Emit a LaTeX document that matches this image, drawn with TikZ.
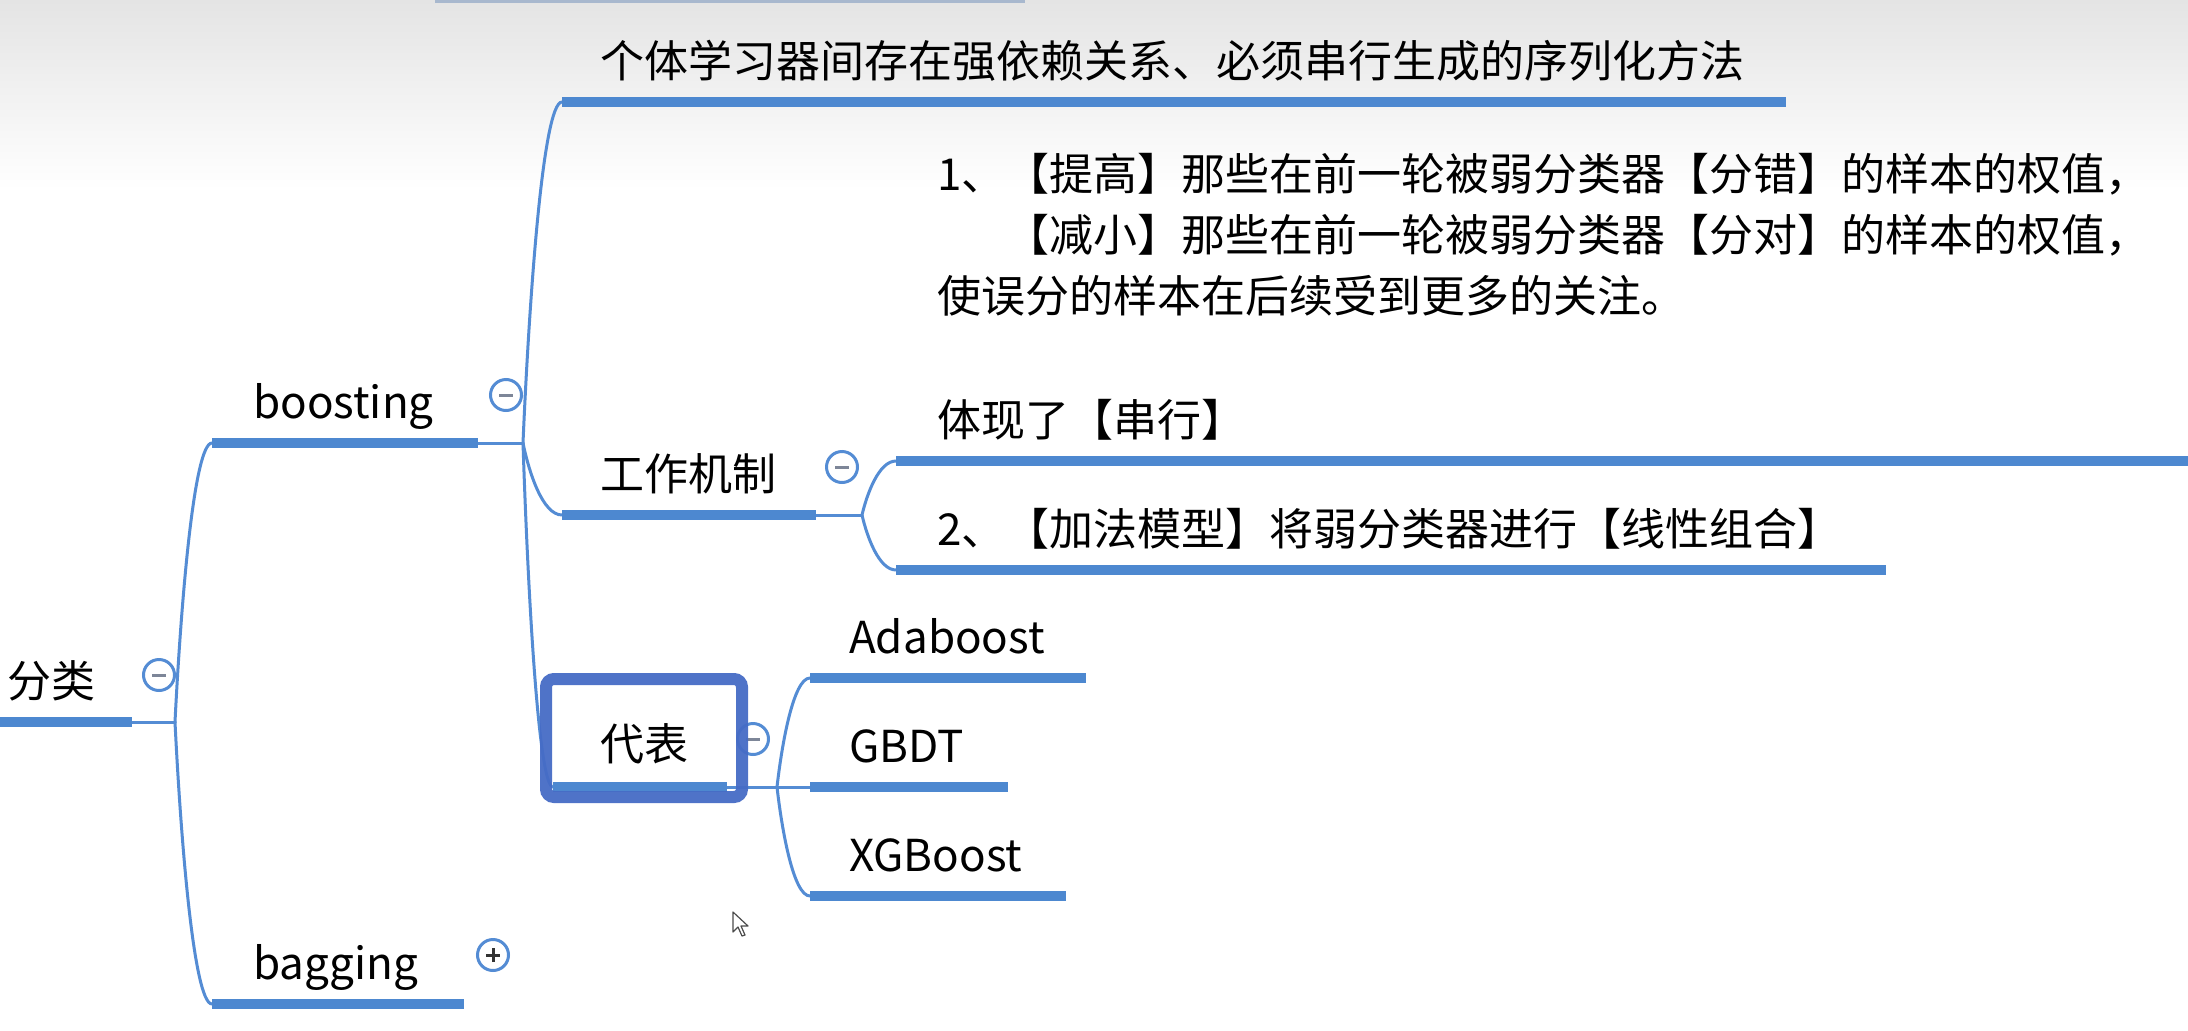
\documentclass[tikz,border=0pt]{standalone}
\usepackage{fontspec}
\setmainfont{Noto Sans CJK SC}
\usetikzlibrary{calc}
\definecolor{ulblue}{RGB}{77,136,208}
\definecolor{lnblue}{RGB}{84,140,212}
\definecolor{selblue}{RGB}{70,108,198}
\definecolor{btngray}{RGB}{125,134,152}
\definecolor{topgray}{RGB}{228,228,228}
\definecolor{midgray}{RGB}{244,244,244}
\definecolor{topline}{RGB}{168,184,206}
\begin{document}
\begin{tikzpicture}[x=1pt,y=-1pt,
  lbl/.style={anchor=base west, inner sep=0pt, font=\fontsize{44}{62}\selectfont, text=black},
  uline/.style={draw=ulblue, line width=10pt},
  conn/.style={draw=lnblue, line width=3pt, line cap=round},
  bcurve/.style={to path={let \p1=(\tikztostart), \p2=(\tikztotarget) in
      .. controls ({\x1+0.15*(\x2-\x1)},{\y1+0.4*(\y2-\y1)}) and ({\x1+0.5*(\x2-\x1)},{\y2}) .. (\tikztotarget)}},
  btn/.style={circle, draw=lnblue, line width=3pt, fill=white, minimum size=31pt, inner sep=0pt},
  btnmark/.style={line width=3pt},
]
\useasboundingbox (0,0) rectangle (2188,1031);
\fill[white] (0,0) rectangle (2188,1031);
\shade[top color=topgray, middle color=midgray, bottom color=white] (0,0) rectangle (2188,190);
\draw[topline, line width=3pt] (435,1) -- (1025,1);

% ---------- anchor coordinates (underline ends and junctions)
\coordinate (fenlei-a) at (0,722);    \coordinate (fenlei-b) at (132,722);  \coordinate (j-fenlei) at (175,722);
\coordinate (boost-a) at (212,443);   \coordinate (boost-b) at (478,443);   \coordinate (j-boost) at (523,443);
\coordinate (bag-a) at (212,1004);    \coordinate (bag-b) at (464,1004);
\coordinate (top-a) at (562,102);     \coordinate (top-b) at (1786,102);
\coordinate (gz-a) at (562,515);      \coordinate (gz-b) at (816,515);      \coordinate (j-gz) at (862,515);
\coordinate (m1-a) at (896,461);      \coordinate (m1-b) at (2200,461);
\coordinate (m2-a) at (896,570);      \coordinate (m2-b) at (1886,570);
\coordinate (db-a) at (553,787);      \coordinate (db-b) at (727,787);      \coordinate (j-db) at (777,787);
\coordinate (ada-a) at (810,678);     \coordinate (ada-b) at (1086,678);
\coordinate (gbdt-a) at (810,787);    \coordinate (gbdt-b) at (1008,787);
\coordinate (xgb-a) at (810,896);     \coordinate (xgb-b) at (1066,896);

% ---------- connectors
\draw[conn] (fenlei-b) -- (j-fenlei);
\draw[conn] (j-fenlei) to[bcurve] (boost-a);
\draw[conn] (j-fenlei) to[bcurve] (bag-a);
\draw[conn] (boost-b) -- (j-boost);
\draw[conn] (j-boost) to[bcurve] (top-a);
\draw[conn] (j-boost) to[bcurve] (gz-a);
\draw[conn] (j-boost) to[bcurve] (db-a);
\draw[conn] (gz-b) -- (j-gz);
\draw[conn] (j-gz) to[bcurve] (m1-a);
\draw[conn] (j-gz) to[bcurve] (m2-a);
\draw[conn] (db-b) -- (j-db);
\draw[conn] (j-db) to[bcurve] (ada-a);
\draw[conn] (j-db) -- (gbdt-a);
\draw[conn] (j-db) to[bcurve] (xgb-a);

% ---------- underlines
\foreach \n in {fenlei,boost,bag,top,gz,m1,m2,db,ada,gbdt,xgb}
  \draw[uline] (\n-a) -- (\n-b);

% ---------- texts
\node[lbl] (t-fenlei) at (7,697) {分类};
\node[lbl] (t-boost) at (253,418) {boosting};
\node[lbl] (t-bag) at (253,979) {bagging};
\node[lbl] (t-top) at (600,77) {个体学习器间存在强依赖关系、必须串行生成的序列化方法};
\node[lbl] (t-gz) at (600,490) {工作机制};
\node[lbl] (t-m1a) at (937,190) {1、【提高】那些在前一轮被弱分类器【分错】的样本的权值，};
\node[lbl] (t-m1b) at (937,251) {\phantom{1、}【减小】那些在前一轮被弱分类器【分对】的样本的权值，};
\node[lbl] (t-m1c) at (937,312) {使误分的样本在后续受到更多的关注。};
\node[lbl] (t-m1d) at (937,436) {体现了【串行】};
\node[lbl] (t-m2) at (937,545) {2、【加法模型】将弱分类器进行【线性组合】};
\node[lbl] (t-db) at (600,760) {代表};
\node[lbl] (t-ada) at (849,653) {Adaboost};
\node[lbl] (t-gbdt) at (849,762) {GBDT};
\node[lbl] (t-xgb) at (849,871) {XGBoost};

% ---------- collapse / expand buttons
\node[btn] (b-fenlei) at (159,675) {};
\node[btn] (b-boost) at (506,395) {};
\node[btn] (b-gz) at (842,467) {};
\node[btn] (b-db) at (753,739) {};
\node[btn] (b-bag) at (493,955) {};
\foreach \b in {b-fenlei,b-boost,b-gz,b-db}
  \draw[btnmark, btngray] ([xshift=-7pt]\b.center) -- ([xshift=7pt]\b.center);
\draw[btnmark, black!80] ([xshift=-7pt]b-bag.center) -- ([xshift=7pt]b-bag.center);
\draw[btnmark, black!80] ([yshift=-7pt]b-bag.center) -- ([yshift=7pt]b-bag.center);

% ---------- selection frame around 代表
\draw[selblue, line width=12pt, rounded corners=8pt, opacity=0.95] (546,679) rectangle (742,797);

% ---------- mouse cursor
\draw[black!70, fill=white, line width=1.2pt, line join=round]
  (733,912) -- (733,932) -- (738,927) -- (742,936) -- (745,935) -- (741,926) -- (748,926) -- cycle;
\end{tikzpicture}
\end{document}
